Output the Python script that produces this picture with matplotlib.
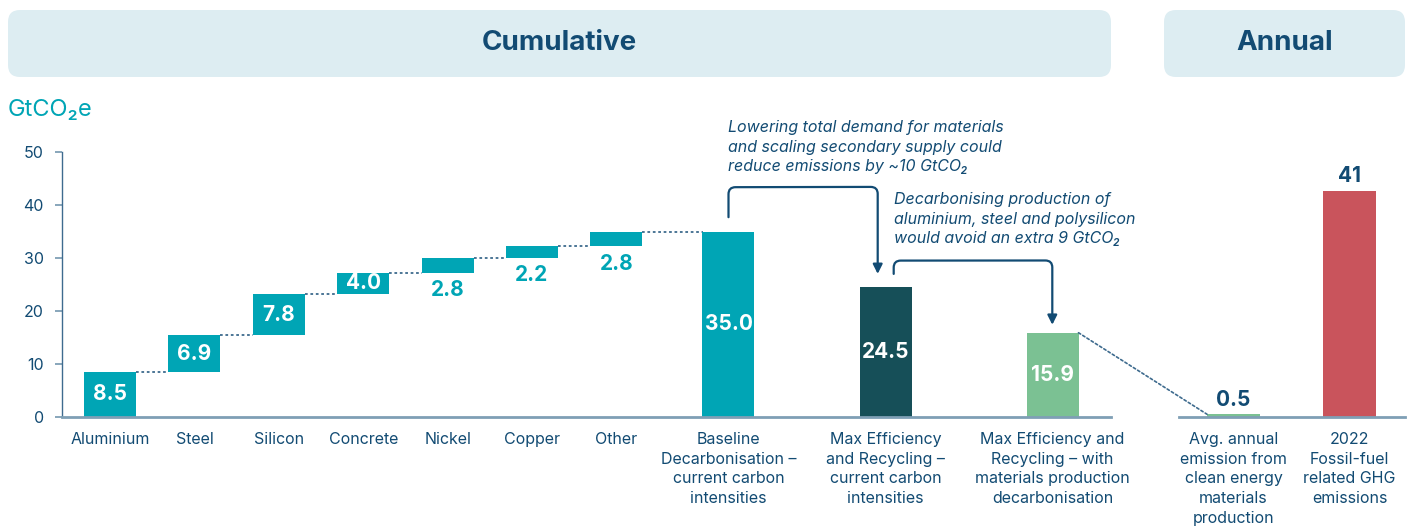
import matplotlib
matplotlib.use("Agg")
import matplotlib.pyplot as plt
from matplotlib.patches import FancyBboxPatch, ConnectionPatch

plt.rcParams['font.family'] = ['Inter', 'DejaVu Sans']

# ---- data ----
materials = ["Aluminium", "Steel", "Silicon", "Concrete", "Nickel", "Copper", "Other"]
material_values = [8.5, 6.9, 7.8, 4.0, 2.8, 2.2, 2.8]

scenarios = ["Baseline\nDecarbonisation –\ncurrent carbon\nintensities",
             "Max Efficiency\nand Recycling –\ncurrent carbon\nintensities",
             "Max Efficiency and\nRecycling – with\nmaterials production\ndecarbonisation"]
scenario_values = [35.0, 24.5, 15.9]

annual_labels = ["Avg. annual\nemission from\nclean energy\nmaterials\nproduction",
                 "2022\nFossil-fuel\nrelated GHG\nemissions"]
annual_values = [0.5, 41]

note_demand = "Lowering total demand for materials\nand scaling secondary supply could\nreduce emissions by ~10 GtCO\u2082"
note_production = "Decarbonising production of\naluminium, steel and polysilicon\nwould avoid an extra 9 GtCO\u2082"

# ---- style ----
TEAL = "#00A5B5"
DARK_TEAL = "#164F58"
GREEN = "#7BC193"
RED = "#C9545C"
NAVY = "#124B73"
AXIS = "#7F9FB5"
HEADER_BG = "#DDEDF2"

W, H = 1413, 529
fig = plt.figure(figsize=(W / 100, H / 100), dpi=100)


def fx(px):
    return px / W


def fy(py):
    return 1 - py / H


# ---- header boxes ----
for x0, x1, title in [(8, 1111, "Cumulative"), (1164, 1405, "Annual")]:
    box = FancyBboxPatch((fx(x0 + 12), fy(77 - 12)), fx(x1 - x0 - 24), (67 - 24) / H,
                         boxstyle="round,pad=0,rounding_size=0.02",
                         transform=fig.transFigure, facecolor=HEADER_BG,
                         edgecolor="none", mutation_aspect=W / H)
    box.set_boxstyle("round", pad=12 / W, rounding_size=12 / W)
    fig.patches.append(box)
    fig.text(fx((x0 + x1) / 2), fy(43), title, ha="center", va="center",
             fontsize=20, fontweight="bold", color=NAVY)

fig.text(fx(8), fy(110), "GtCO\u2082e", ha="left", va="center",
         fontsize=17, color=TEAL)

# ---- cumulative panel ----
ax = fig.add_axes([fx(62), fy(417), fx(1111 - 62), (417 - 152) / H])
step = 84.4
mat_x = list(range(len(materials)))
scen_x = [(728.5 - 110) / step, (885.5 - 110) / step, (1052.5 - 110) / step]
bw = 52 / step

ax.set_xlim((62 - 110) / step, (1111 - 110) / step)
ax.set_ylim(0, 50)

bottoms = []
running = 0.0
for v in material_values:
    bottoms.append(running)
    running += v

ax.bar(mat_x, material_values, bottom=bottoms, width=bw, color=TEAL, zorder=3)
for x, b, v in zip(mat_x, bottoms, material_values):
    if v >= 3.5:
        ax.text(x, b + v / 2, f"{v:.1f}", ha="center", va="center",
                fontsize=15, fontweight="bold", color="white", zorder=4)
    else:
        ax.annotate(f"{v:.1f}", (x, b), xytext=(0, -12.5), textcoords="offset points",
                    ha="center", va="center", fontsize=15, fontweight="bold",
                    color=TEAL, zorder=4)

# dotted connectors between steps
tops = [b + v for b, v in zip(bottoms, material_values)]
next_left = [x - bw / 2 for x in mat_x[1:]] + [scen_x[0] - bw / 2]
for x, t, nx in zip(mat_x, tops, next_left):
    ax.plot([x + bw / 2, nx], [t, t], color="#3E6B8E", lw=1.3,
            linestyle=(0, (1.5, 1.5)), zorder=2)

scen_colors = [TEAL, DARK_TEAL, GREEN]
ax.bar(scen_x, scenario_values, width=bw, color=scen_colors, zorder=3)
for x, v in zip(scen_x, scenario_values):
    ax.text(x, v / 2, f"{v:.1f}", ha="center", va="center",
            fontsize=15, fontweight="bold", color="white", zorder=4)

ax.set_xticks(mat_x + scen_x)
ax.set_xticklabels(materials + scenarios, fontsize=11.5, color=NAVY,
                   linespacing=1.38, va="top")
ax.tick_params(axis="x", length=0, pad=11)
ax.set_yticks(range(0, 51, 10))
ax.tick_params(axis="y", length=5, width=1.3, color=AXIS, pad=8,
               labelsize=11.5, labelcolor=NAVY)
for s in ["top", "right"]:
    ax.spines[s].set_visible(False)
ax.spines["left"].set_color("#3F6B8F")
ax.spines["left"].set_linewidth(1)
ax.spines["bottom"].set_color(AXIS)
ax.spines["bottom"].set_linewidth(2)
ax.spines["bottom"].set_zorder(5)

# bracket arrows (arm lengths and corner radius in pixels)
arrow_kw = dict(arrowstyle="-|>", color=NAVY, lw=1.6, mutation_scale=14,
                shrinkA=0, shrinkB=0)
ax.annotate("", xy=((877.7 - 110) / step, 27.0), xytext=(scen_x[0], 37.7),
            arrowprops=dict(connectionstyle="arc,angleA=90,angleB=90,armA=30,armB=87,rad=7",
                            **arrow_kw), annotation_clip=False)
ax.annotate("", xy=((1052.3 - 110) / step, 17.4), xytext=((893.7 - 110) / step, 27.0),
            arrowprops=dict(connectionstyle="arc,angleA=90,angleB=90,armA=13.3,armB=64.3,rad=7",
                            **arrow_kw), annotation_clip=False)

fig.text(fx(728), fy(120), note_demand, ha="left", va="top", fontsize=11.5,
         fontstyle="italic", color=NAVY, linespacing=1.38)
fig.text(fx(894), fy(192), note_production, ha="left", va="top", fontsize=11.5,
         fontstyle="italic", color=NAVY, linespacing=1.38)

# ---- annual panel ----
ax2 = fig.add_axes([fx(1179), fy(417), fx(1405 - 1179), (417 - 152) / H])
ann_x = [0, 1]
bw2 = 53 / 116
ax2.set_xlim((1179 - 1233.5) / 116, (1405 - 1233.5) / 116)
ax2.set_ylim(0, 48)
ax2.bar(ann_x, annual_values, width=bw2, color=[GREEN, RED], zorder=3)
for x, v in zip(ann_x, annual_values):
    ax2.annotate(f"{v:g}", (x, v), xytext=(0, 10.5), textcoords="offset points",
                 ha="center", va="center", fontsize=15, fontweight="bold", color=NAVY)
ax2.set_xticks(ann_x)
ax2.set_xticklabels(annual_labels, fontsize=11.5, color=NAVY, linespacing=1.38, va="top")
ax2.tick_params(axis="x", length=0, pad=11)
ax2.set_yticks([])
for s in ["top", "right", "left"]:
    ax2.spines[s].set_visible(False)
ax2.spines["bottom"].set_color(AXIS)
ax2.spines["bottom"].set_linewidth(2)
ax2.spines["bottom"].set_zorder(5)

# link from the last cumulative bar to the annual average
link = ConnectionPatch(xyA=(scen_x[2] + bw / 2, scenario_values[2]), coordsA=ax.transData,
                       xyB=(ann_x[0] - bw2 / 2, annual_values[0]), coordsB=ax2.transData,
                       color="#3E6B8E", lw=1.2, linestyle=(0, (1.5, 1.5)))
fig.add_artist(link)

fig.savefig("out.png", dpi=100)
